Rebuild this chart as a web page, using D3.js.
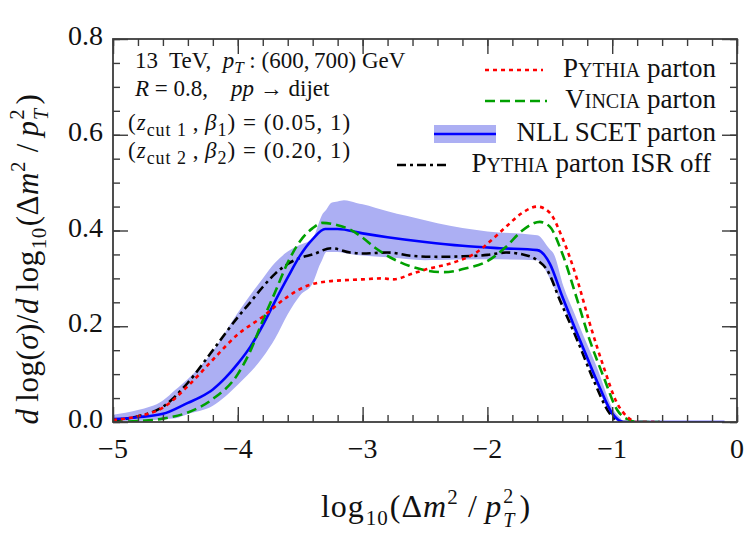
<!DOCTYPE html>
<html>
<head>
<meta charset="utf-8">
<script src="https://cdn.jsdelivr.net/npm/d3@7"></script>
<style>
  html, body { margin: 0; padding: 0; background: #fff; }
  svg text { font-family: 'Liberation Serif', 'Times New Roman', 'DejaVu Serif', serif; }
</style>
</head>
<body>
<div id="chart"></div>
<script>
// log10(dm^2/pT^2) vs d log(sigma)/d log10(...)

const xTicks = [-5, -4, -3, -2, -1, 0];
const yTicks = [0.0, 0.2, 0.4, 0.6, 0.8];

// NLL SCET parton: central line
const nllCentral = [
  [-5.0, 0.006], [-4.8, 0.010], [-4.6, 0.017], [-4.4, 0.040], [-4.3, 0.052],
  [-4.2, 0.068], [-4.1, 0.092], [-4.0, 0.122], [-3.9, 0.157], [-3.8, 0.202],
  [-3.7, 0.253], [-3.6, 0.302], [-3.5, 0.348], [-3.4, 0.382], [-3.3, 0.403],
  [-3.2, 0.403], [-3.0, 0.394], [-2.8, 0.386], [-2.5, 0.376], [-2.2, 0.368],
  [-1.9, 0.363], [-1.6, 0.359], [-1.5, 0.331], [-1.4, 0.262], [-1.3, 0.197],
  [-1.2, 0.134], [-1.1, 0.072], [-1.0, 0.018], [-0.91, 0.0], [-0.1, 0.0]
];
// NLL SCET parton: uncertainty band
const nllUpper = [
  [-5.0, 0.015], [-4.8, 0.025], [-4.6, 0.045], [-4.4, 0.090], [-4.2, 0.148],
  [-4.0, 0.228], [-3.8, 0.300], [-3.7, 0.333], [-3.6, 0.356], [-3.5, 0.370],
  [-3.4, 0.384], [-3.33, 0.430], [-3.25, 0.458], [-3.15, 0.463], [-3.0, 0.455],
  [-2.8, 0.440], [-2.4, 0.415], [-2.0, 0.398], [-1.6, 0.390], [-1.47, 0.352],
  [-1.39, 0.283], [-1.26, 0.199], [-1.125, 0.116], [-1.0, 0.030], [-0.91, 0.0],
  [-0.1, 0.0]
];
const nllLower = [
  [-5.0, 0.0], [-4.8, 0.002], [-4.5, 0.008], [-4.2, 0.034], [-4.0, 0.078],
  [-3.8, 0.135], [-3.7, 0.175], [-3.6, 0.225], [-3.5, 0.265], [-3.4, 0.290],
  [-3.34, 0.330], [-3.29, 0.355], [-3.2, 0.355], [-3.05, 0.349], [-2.5, 0.338],
  [-2.0, 0.340], [-1.6, 0.338], [-1.5, 0.300], [-1.39, 0.240], [-1.3, 0.185],
  [-1.2, 0.122], [-1.1, 0.062], [-1.0, 0.012], [-0.93, 0.0], [-0.1, 0.0]
];

const pythia = [
  [-5.0, 0.004], [-4.8, 0.012], [-4.6, 0.030], [-4.4, 0.075], [-4.2, 0.130],
  [-4.0, 0.183], [-3.8, 0.220], [-3.6, 0.262], [-3.45, 0.284], [-3.3, 0.293],
  [-3.0, 0.298], [-2.85, 0.300], [-2.75, 0.298], [-2.6, 0.310], [-2.5, 0.318],
  [-2.25, 0.335], [-2.1, 0.352], [-1.98, 0.377], [-1.85, 0.408], [-1.72, 0.437],
  [-1.6, 0.450], [-1.5, 0.437], [-1.4, 0.385], [-1.28, 0.297], [-1.18, 0.206],
  [-1.07, 0.116], [-0.96, 0.039], [-0.88, 0.011], [-0.8, 0.0], [-0.62, 0.0]
];

const vincia = [
  [-5.0, 0.0], [-4.8, 0.002], [-4.6, 0.007], [-4.4, 0.020], [-4.2, 0.048],
  [-4.0, 0.100], [-3.9, 0.148], [-3.8, 0.212], [-3.7, 0.272], [-3.6, 0.333],
  [-3.5, 0.378], [-3.4, 0.405], [-3.32, 0.416], [-3.2, 0.411], [-3.1, 0.402],
  [-3.0, 0.385], [-2.9, 0.364], [-2.75, 0.340], [-2.5, 0.317], [-2.35, 0.313],
  [-2.17, 0.321], [-2.0, 0.336], [-1.85, 0.366], [-1.72, 0.400], [-1.58, 0.418],
  [-1.5, 0.408], [-1.4, 0.352], [-1.28, 0.255], [-1.18, 0.171], [-1.07, 0.095],
  [-0.96, 0.025], [-0.86, 0.004], [-0.8, 0.0], [-0.62, 0.0]
];

const pythiaIsrOff = [
  [-5.0, 0.004], [-4.8, 0.012], [-4.6, 0.032], [-4.4, 0.082], [-4.2, 0.150],
  [-4.0, 0.219], [-3.9, 0.250], [-3.8, 0.282], [-3.7, 0.310], [-3.6, 0.330],
  [-3.5, 0.343], [-3.4, 0.350], [-3.25, 0.363], [-3.1, 0.354], [-3.0, 0.352],
  [-2.8, 0.354], [-2.6, 0.347], [-2.4, 0.345], [-2.2, 0.346], [-2.0, 0.349],
  [-1.85, 0.354], [-1.7, 0.349], [-1.6, 0.338], [-1.52, 0.317], [-1.42, 0.255],
  [-1.28, 0.171], [-1.15, 0.088], [-1.02, 0.018], [-0.94, 0.0], [-0.62, 0.0]
];

const FONT = "'Liberation Serif', 'Times New Roman', 'DejaVu Serif', serif";
const width = 750, height = 538;
const margin = { top: 39, right: 13, bottom: 116, left: 113 };
const W = width - margin.left - margin.right;
const H = height - margin.top - margin.bottom;

const x = d3.scaleLinear().domain([-5, 0]).range([0, W]);
const y = d3.scaleLinear().domain([0, 0.8]).range([H, 0]);

const svg = d3.select('#chart').append('svg')
  .attr('width', width).attr('height', height)
  .attr('font-family', FONT);

svg.append('defs').append('clipPath').attr('id', 'plot-clip')
  .append('rect').attr('x', 0).attr('y', 0).attr('width', W).attr('height', H);

const g = svg.append('g').attr('transform', `translate(${margin.left},${margin.top})`);
const plot = g.append('g').attr('clip-path', 'url(#plot-clip)');

// band: lower/upper were read at different x, put them on one grid
function interp(arr, v) {
  const i = d3.bisector(d => d[0]).left(arr, v);
  if (i <= 0) return arr[0][1];
  if (i >= arr.length) return arr[arr.length - 1][1];
  const a = arr[i - 1], b = arr[i];
  return a[1] + (b[1] - a[1]) * (v - a[0]) / (b[0] - a[0]);
}
const bandXs = Array.from(new Set(nllUpper.map(d => d[0]).concat(nllLower.map(d => d[0])))).sort((a, b) => a - b);
const bandRows = bandXs.map(v => [v, interp(nllLower, v), interp(nllUpper, v)]);

const band = d3.area()
  .x(d => x(d[0])).y0(d => y(d[1])).y1(d => y(d[2]))
  .curve(d3.curveMonotoneX);

const BAND_COLOR = '#acaff3';
plot.append('path').datum(bandRows)
  .attr('fill', BAND_COLOR).attr('stroke', 'none')
  .attr('d', band);

const line = d3.line().x(d => x(d[0])).y(d => y(d[1])).curve(d3.curveMonotoneX);

const SERIES = [
  { data: pythiaIsrOff, color: '#000000', dash: '9,4,3,4' },
  { data: nllCentral, color: '#0000ff', dash: null },
  { data: vincia, color: '#00a000', dash: '10,5' },
  { data: pythia, color: '#ff0000', dash: '4,4' }
];

SERIES.forEach(S => {
  plot.append('path').datum(S.data)
    .attr('fill', 'none').attr('stroke', S.color).attr('stroke-width', 2.6)
    .attr('stroke-dasharray', S.dash)
    .attr('d', line);
});

// frame + ticks on all four sides (pointing inward)
const AX = '#3c3c3c';
function styleAxis(sel) {
  sel.select('.domain').remove();
  sel.selectAll('line').attr('stroke', AX).attr('stroke-width', 1.4);
  sel.selectAll('text').remove();
}
const xMinor = x.ticks(25), yMinor = y.ticks(20);
g.append('g').attr('transform', `translate(0,${H})`)
  .call(d3.axisBottom(x).tickValues(xMinor).tickSize(-7)).call(styleAxis);
g.append('g').attr('transform', `translate(0,${H})`)
  .call(d3.axisBottom(x).tickValues(xTicks).tickSize(-15)).call(styleAxis);
g.append('g')
  .call(d3.axisTop(x).tickValues(xMinor).tickSize(-7)).call(styleAxis);
g.append('g')
  .call(d3.axisTop(x).tickValues(xTicks).tickSize(-15)).call(styleAxis);
g.append('g')
  .call(d3.axisLeft(y).tickValues(yMinor).tickSize(-7)).call(styleAxis);
g.append('g')
  .call(d3.axisLeft(y).tickValues(yTicks).tickSize(-15)).call(styleAxis);
g.append('g').attr('transform', `translate(${W},0)`)
  .call(d3.axisRight(y).tickValues(yMinor).tickSize(-7)).call(styleAxis);
g.append('g').attr('transform', `translate(${W},0)`)
  .call(d3.axisRight(y).tickValues(yTicks).tickSize(-15)).call(styleAxis);

g.append('rect').attr('x', 0).attr('y', 0).attr('width', W).attr('height', H)
  .attr('fill', 'none').attr('stroke', AX).attr('stroke-width', 1.8);

// tick labels
const fmtX = d3.format('d'), fmtY = d3.format('.1f');
g.selectAll('.xlab').data(xTicks).join('text')
  .attr('x', d => x(d)).attr('y', H + 36)
  .attr('font-family', FONT)
  .attr('text-anchor', 'middle').attr('font-size', 28).attr('fill', '#111')
  .text(d => fmtX(d));
g.selectAll('.ylab').data(yTicks).join('text')
  .attr('x', -10).attr('y', d => y(d) + 6)
  .attr('font-family', FONT)
  .attr('text-anchor', 'end').attr('font-size', 28).attr('fill', '#111')
  .text(d => fmtY(d));

// rich text helper
function rich(sel, parts) {
  sel.attr('font-family', FONT);
  parts.forEach(p => {
    const t = sel.append('tspan').text(p.t);
    if (p.it) t.attr('font-style', 'italic');
    if (p.fs) t.attr('font-size', p.fs);
    if (p.dy) t.attr('dy', p.dy);
    if (p.dx) t.attr('dx', p.dx);
  });
  return sel;
}

// axis titles (p_T^2: superscript lifted, subscript dropped so they stack)
const titleParts = [
  { t: 'log' }, { t: '10', fs: 21, dy: 8, dx: 1 }, { t: '(Δ', dy: -8, dx: 1 }, { t: 'm', it: true },
  { t: '2', fs: 21, dy: -13 }, { t: '\u2009/\u2009', dy: 13, dx: 2 }, { t: 'p', it: true },
  { t: '2', fs: 20, dy: -14, dx: 1 }, { t: 'T', it: true, fs: 20, dx: -11, dy: 24 }, { t: ')', dy: -10, dx: 4 }
];
rich(svg.append('text').attr('x', 426).attr('y', 517).attr('text-anchor', 'middle')
  .attr('font-size', 32).attr('letter-spacing', 1).attr('fill', '#111'), titleParts);

rich(svg.append('text').attr('transform', 'translate(38,259) rotate(-90)')
  .attr('text-anchor', 'middle').attr('font-size', 31).attr('letter-spacing', 0.5).attr('fill', '#111'), [
  { t: 'd', it: true }, { t: '\u2009log(' }, { t: 'σ', it: true }, { t: ')/' }, { t: 'd', it: true },
  { t: '\u2009log' }
].concat(titleParts.slice(1)));

// annotation block
const ann = svg.append('g').attr('font-size', 23).attr('fill', '#111');
rich(ann.append('text').attr('x', 135).attr('y', 68), [
  { t: '13\u00a0 TeV,\u00a0 ' }, { t: 'p', it: true }, { t: 'T', it: true, fs: 17, dy: 5 },
  { t: '\u00a0: (600,\u2009700) GeV', dy: -5 }
]);
rich(ann.append('text').attr('x', 135).attr('y', 96), [
  { t: 'R', it: true }, { t: ' = 0.8,\u00a0\u00a0\u00a0\u00a0' }, { t: 'pp', it: true }, { t: ' → dijet' }
]);
rich(ann.append('text').attr('x', 128).attr('y', 130).attr('letter-spacing', 1), [
  { t: '(' }, { t: 'z', it: true }, { t: 'cut\u00a01', fs: 18, dy: 6 }, { t: '\u2009,\u2009', dy: -6 },
  { t: 'β', it: true }, { t: '1', fs: 18, dy: 6 }, { t: ')\u00a0=\u00a0(0.05,\u00a01)', dy: -6 }
]);
rich(ann.append('text').attr('x', 128).attr('y', 158).attr('letter-spacing', 1), [
  { t: '(' }, { t: 'z', it: true }, { t: 'cut\u00a02', fs: 18, dy: 6 }, { t: '\u2009,\u2009', dy: -6 },
  { t: 'β', it: true }, { t: '2', fs: 18, dy: 6 }, { t: ')\u00a0=\u00a0(0.20,\u00a01)', dy: -6 }
]);

// legend
const leg = svg.append('g').attr('font-size', 27).attr('fill', '#111');
const LEG = [
  { parts: [{ t: 'P' }, { t: 'YTHIA', fs: 20 }, { t: ' parton' }], yb: 77, xe: 716, color: '#ff0000', dash: '4,4', x0: 485, x1: 543 },
  { parts: [{ t: 'V' }, { t: 'INCIA', fs: 20 }, { t: ' parton' }], yb: 108, xe: 716, color: '#00a000', dash: '10,5', x0: 485, x1: 547 },
  { parts: [{ t: 'NLL SCET parton' }], yb: 141, xe: 716, color: '#0000ff', dash: null, x0: 434, x1: 496, band: true },
  { parts: [{ t: 'P' }, { t: 'YTHIA', fs: 20 }, { t: ' parton ISR off' }], yb: 172, xe: 711, color: '#000000', dash: '9,4,3,4', x0: 397, x1: 450 }
];
LEG.forEach(L => {
  const ly = L.yb - 7;
  if (L.band) {
    leg.append('rect').attr('x', L.x0).attr('y', ly - 9).attr('width', L.x1 - L.x0).attr('height', 18)
      .attr('fill', BAND_COLOR);
  }
  leg.append('line').attr('x1', L.x0).attr('x2', L.x1).attr('y1', ly).attr('y2', ly)
    .attr('stroke', L.color).attr('stroke-width', 2.6).attr('stroke-dasharray', L.dash);
  rich(leg.append('text').attr('x', L.xe).attr('y', L.yb).attr('text-anchor', 'end'), L.parts);
});
</script>
</body>
</html>
